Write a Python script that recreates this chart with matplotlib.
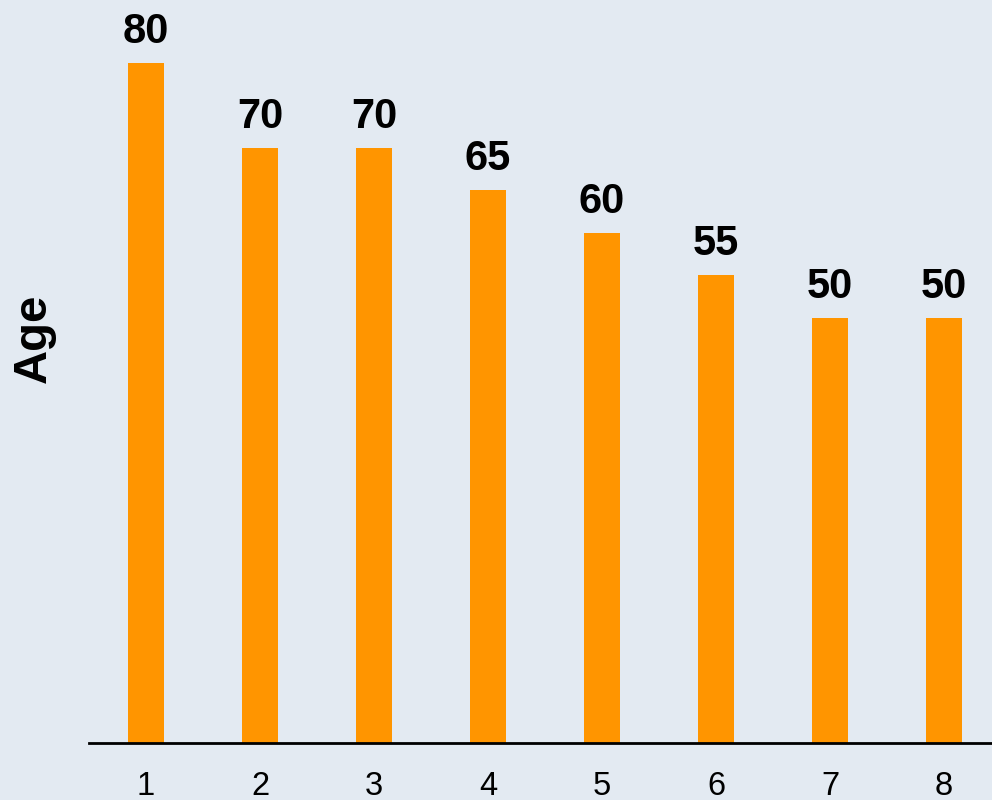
import matplotlib
matplotlib.use("Agg")
import matplotlib.pyplot as plt

plt.rcParams['font.family'] = ['Liberation Sans', 'DejaVu Sans']

positions = [1, 2, 3, 4, 5, 6, 7, 8]
ages = [80, 70, 70, 65, 60, 55, 50, 50]
tick_labels = ["1", "2", "3", "4", "5", "6", "7", "8"]

bg = "#e3eaf2"
bar_color = "#ff9500"

fig = plt.figure(figsize=(9.92, 8), dpi=100, facecolor=bg)
# axes runs a bit past the right edge of the figure, as in the reference
ax = fig.add_axes([89 / 992, 57 / 800, 912 / 992, 743 / 800])
ax.set_facecolor(bg)

ax.bar(positions, ages, width=0.316, color=bar_color, linewidth=0)
for x, v in zip(positions, ages):
    ax.annotate(str(v), (x, v), xytext=(0, 8), textcoords="offset points",
                ha="center", va="bottom", fontsize=30, fontweight="bold")

ax.set_xlim(0.5, 8.5)
ax.set_ylim(0, 87.4)
ax.set_xticks(positions)
ax.set_xticklabels(tick_labels, fontsize=23.5)
ax.set_yticks([])
ax.tick_params(axis="x", length=0, pad=20)

for side in ["top", "right", "left"]:
    ax.spines[side].set_visible(False)
ax.spines["bottom"].set_linewidth(2)
ax.spines["bottom"].set_color("black")

fig.text(34 / 992, 1 - 338 / 800, "Age", rotation=90, ha="center", va="center",
         fontsize=34, fontweight="bold")

fig.savefig("out.png", dpi=100, facecolor=bg)
